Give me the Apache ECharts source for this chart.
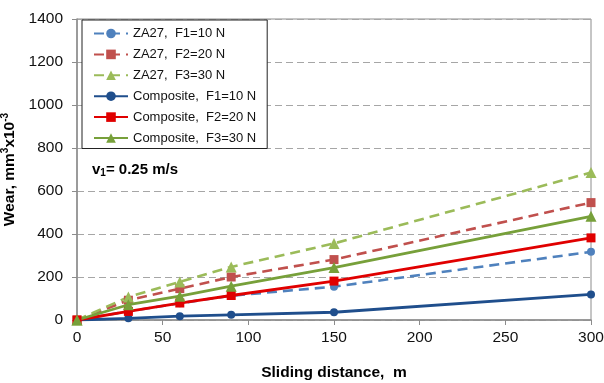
<!DOCTYPE html>
<html>
<head>
<meta charset="utf-8">
<script src="https://cdn.jsdelivr.net/npm/echarts@6/dist/echarts.min.js"></script>
<style>html,body{margin:0;padding:0;background:#fff}#c{width:604px;height:383px}</style>
</head>
<body>
<div id="c"></div>
<script>
const distance = [0, 30, 60, 90, 150, 300];
const za27F1 = [0, 40, 78, 113, 155, 317];
const za27F2 = [0, 92, 146, 200, 281, 546];
const za27F3 = [0, 107, 177, 247, 356, 686];
const compF1 = [0, 8, 18, 24, 36, 119];
const compF2 = [0, 40, 79, 114, 181, 382];
const compF3 = [0, 71, 111, 157, 244, 482];
const seriesNames = ['ZA27,  F1=10 N', 'ZA27,  F2=20 N', 'ZA27,  F3=30 N',
  'Composite,  F1=10 N', 'Composite,  F2=20 N', 'Composite,  F3=30 N'];
const xTicks = [0, 50, 100, 150, 200, 250, 300];
const yTicks = [0, 200, 400, 600, 800, 1000, 1200, 1400];

const FONT = '"Liberation Sans", Arial, sans-serif';
function pairs(vals) { return distance.map((d, i) => [d, vals[i]]); }
function mk(name, vals, color, symbol, size, dashed, z) {
  return {
    name, type: 'line', data: pairs(vals), symbol, symbolSize: size,
    z,
    lineStyle: { color, width: dashed ? 2.6 : 2.8, type: dashed ? [10, 6] : 'solid' },
    itemStyle: { color },
    emphasis: { disabled: true },
    animation: false
  };
}
const chart = echarts.init(document.getElementById('c'), null, { renderer: 'canvas' });
chart.setOption({
  backgroundColor: '#fff',
  textStyle: { fontFamily: FONT },
  grid: { left: 77, right: 13, top: 19, bottom: 63, containLabel: false, outerBoundsMode: 'none',
    show: true, borderColor: '#8c8c8c', borderWidth: 1, backgroundColor: 'transparent' },
  legend: {
    orient: 'vertical', left: 82, top: 20,
    data: seriesNames,
    backgroundColor: '#fff', borderColor: '#222', borderWidth: 1,
    padding: [7, 11, 4, 11],
    itemWidth: 34, itemHeight: 12, itemGap: 7.9,
    textStyle: { fontFamily: FONT, fontSize: 13, color: '#111' }
  },
  xAxis: {
    type: 'value', min: 0, max: 300, interval: 50,
    name: 'Sliding distance,  m', nameLocation: 'middle', nameGap: 45,
    nameTextStyle: { fontFamily: FONT, fontSize: 15.5, fontWeight: 'bold', color: '#000' },
    axisLine: { show: true, lineStyle: { color: '#8c8c8c', width: 1.5 } },
    axisTick: { show: true, length: 5, lineStyle: { color: '#8c8c8c' } },
    axisLabel: { fontFamily: FONT, fontSize: 15.5, color: '#111', margin: 10,
      formatter: v => xTicks.includes(v) ? String(v) : '' },
    splitLine: { show: false }
  },
  yAxis: {
    type: 'value', min: 0, max: 1400, interval: 200,
    name: 'Wear, mm{sup|3}x10{sup|-3}', nameLocation: 'middle', nameGap: 43,
    nameTextStyle: { fontFamily: FONT, fontSize: 15.5, fontWeight: 'bold', color: '#000',
      rich: { sup: { fontFamily: FONT, fontSize: 10, fontWeight: 'bold', color: '#000', verticalAlign: 'top', padding: [0, 0, 8, 0] } } },
    axisLine: { show: true, lineStyle: { color: '#8c8c8c', width: 1.5 } },
    axisTick: { show: true, length: 5, lineStyle: { color: '#8c8c8c' } },
    axisLabel: { fontFamily: FONT, fontSize: 15.5, color: '#111', margin: 14,
      formatter: v => yTicks.includes(v) ? String(v) : '' },
    splitLine: { show: true, lineStyle: { color: '#a6a6a6', width: 1.2, type: [7, 4] } }
  },
  graphic: [{
    type: 'text', left: 92, top: 162,
    style: {
      text: 'v{sub|1}= 0.25 m/s',
      font: 'bold 15px ' + FONT, fill: '#000',
      rich: { sub: { fontFamily: FONT, fontSize: 10, fontWeight: 'bold', fill: '#000', padding: [8, 0, 0, 0] } }
    }
  }],
  series: [
    mk(seriesNames[0], za27F1, '#4F81BD', 'circle', 8, true, 2),
    mk(seriesNames[1], za27F2, '#C0504D', 'rect', 9, true, 2),
    mk(seriesNames[2], za27F3, '#9BBB59', 'triangle', 11, true, 2),
    mk(seriesNames[3], compF1, '#1F4E8C', 'circle', 8, false, 3),
    mk(seriesNames[4], compF2, '#E00000', 'rect', 9, false, 3),
    mk(seriesNames[5], compF3, '#77A03A', 'triangle', 11, false, 3)
  ]
});
</script>
</body>
</html>
